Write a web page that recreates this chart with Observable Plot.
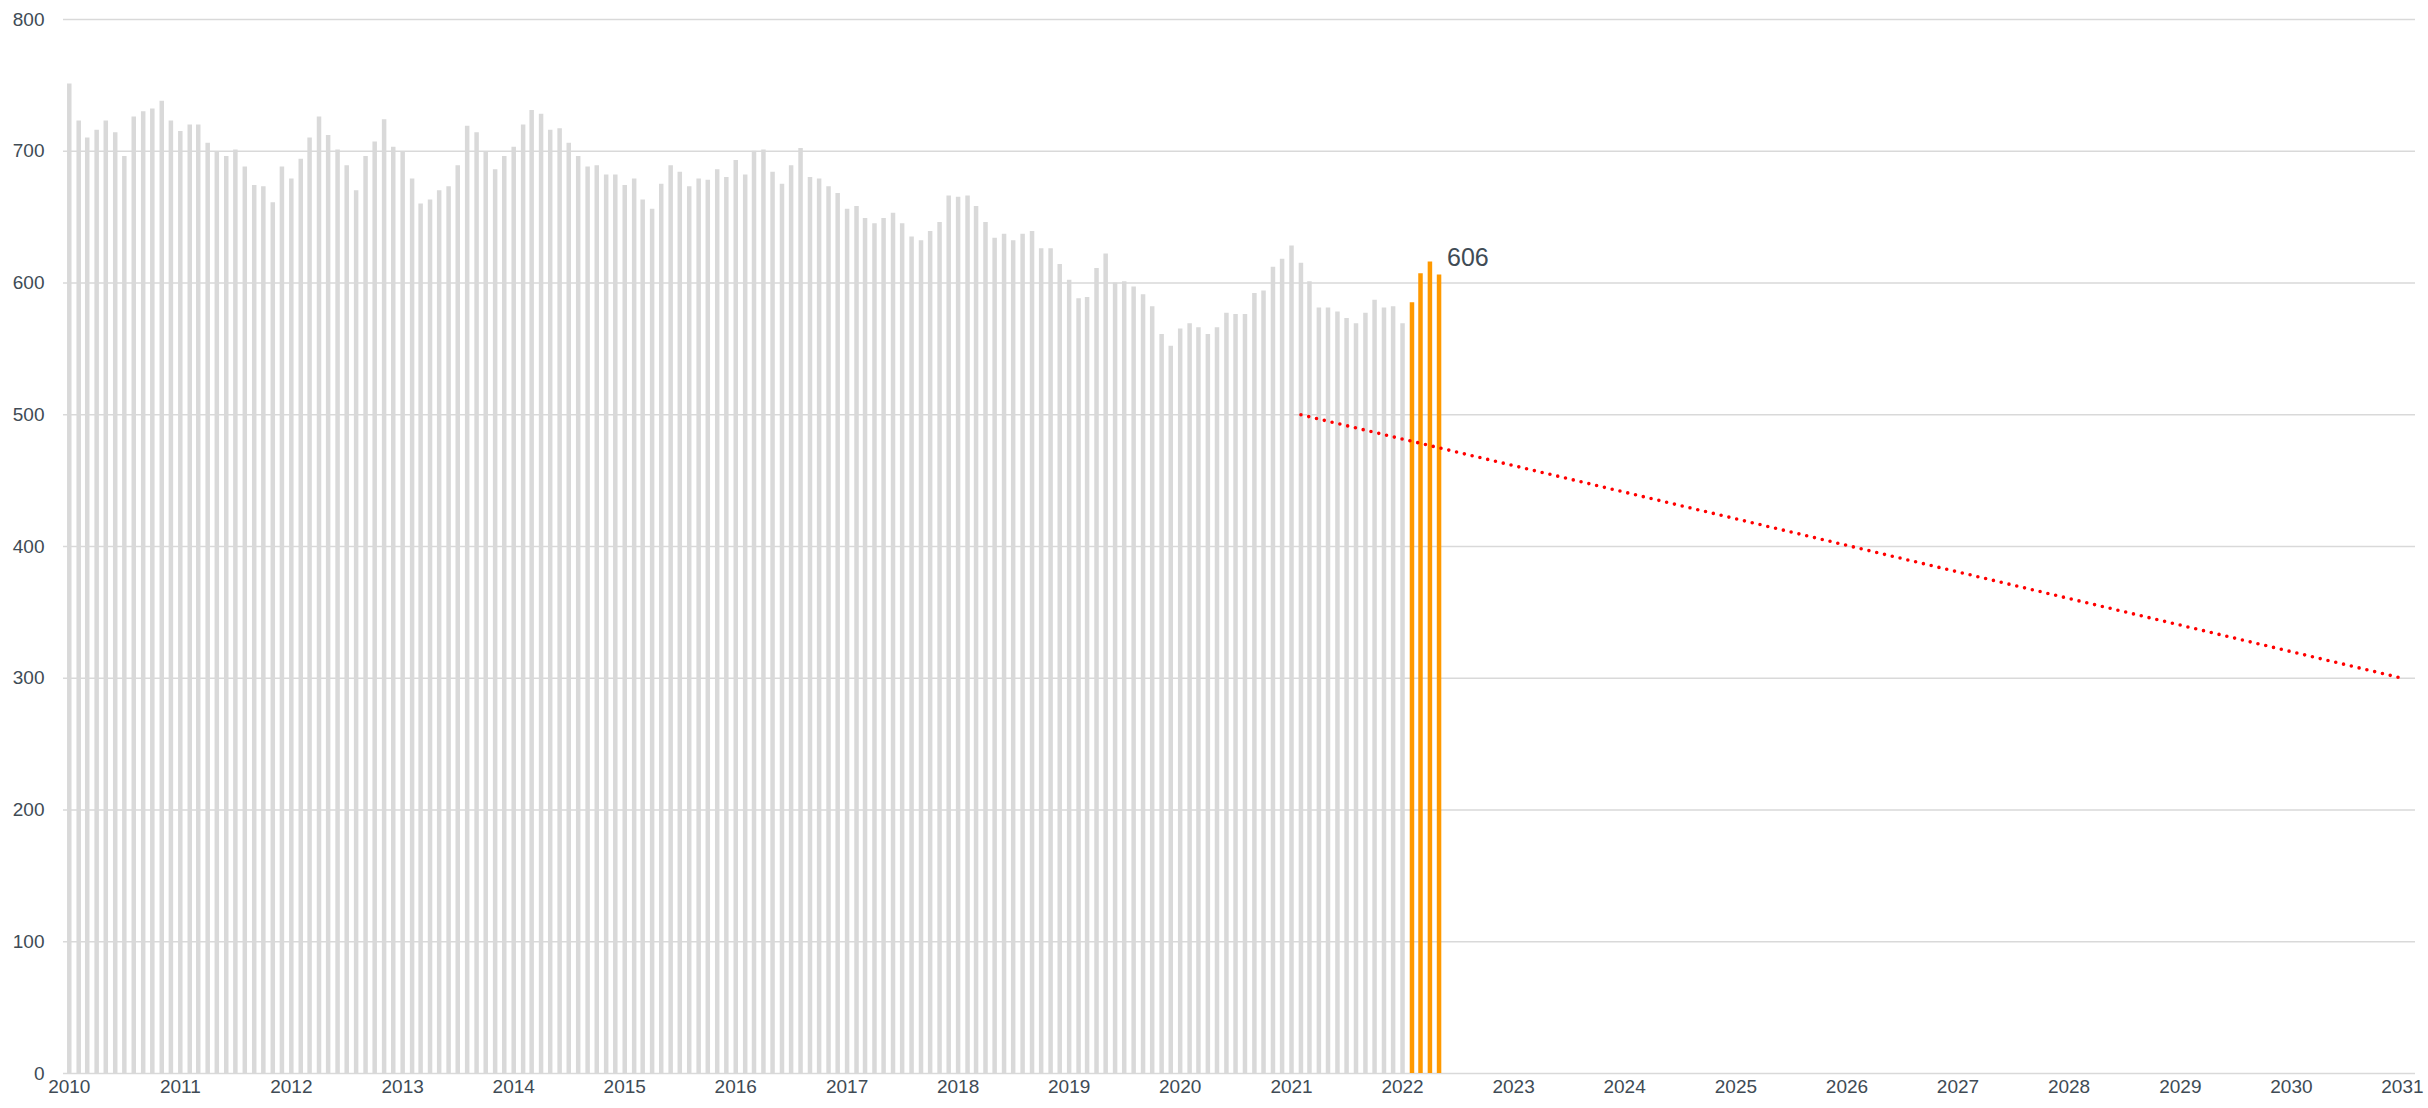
<!DOCTYPE html>
<html>
<head>
<meta charset="utf-8">
<script src="https://cdn.jsdelivr.net/npm/d3@7"></script>
<script src="https://cdn.jsdelivr.net/npm/@observablehq/plot@0.6"></script>
<style>
  html, body { margin: 0; padding: 0; background: #fff; }
  #chart svg { display: block; }
</style>
</head>
<body>
<div id="chart"></div>
<script>
// Monthly values, starting January 2010
const startMonth = "2010-01-01";
const values = [
  751, 723, 710, 716, 723, 714, 696, 726, 730, 732, 738, 723,
  715, 720, 720, 706, 699, 696, 701, 688, 674, 673, 661, 688,
  679, 694, 710, 726, 712, 701, 689, 670, 696, 707, 724, 703,
  699, 679, 660, 663, 670, 673, 689, 719, 714, 699, 686, 696,
  703, 720, 731, 728, 716, 717, 706, 696, 688, 689, 682, 682,
  674, 679, 663, 656, 675, 689, 684, 673, 679, 678, 686, 680,
  693, 682, 700, 701, 684, 675, 689, 702, 680, 679, 673, 668,
  656, 658, 649, 645, 649, 653, 645, 635, 632, 639, 646, 666,
  665, 666, 658, 646, 634, 637, 632, 637, 639, 626, 626, 614,
  602, 588, 589, 611, 622, 600, 601, 597, 591, 582, 561, 552,
  565, 569, 566, 561, 566, 577, 576, 576, 592, 594, 612, 618,
  628, 615, 601, 581, 581, 578, 573, 569, 577, 587, 581, 582,
  569, 585, 607, 616, 606
];
const highlightCount = 4; // most recent months, drawn in orange

// Target trend line
const trendDates = ["2021-02-01", "2031-01-01"];
const trendValues = [500, 300];

// Axis ticks
const yearLabels = ["2010","2011","2012","2013","2014","2015","2016","2017","2018","2019","2020",
                    "2021","2022","2023","2024","2025","2026","2027","2028","2029","2030","2031"];
const yTicks = [0, 100, 200, 300, 400, 500, 600, 700, 800];

// Build tables
const start = new Date(startMonth);
const data = values.map((v, i) => ({
  date: d3.utcMonth.offset(start, i),
  value: v,
  highlight: i >= values.length - highlightCount
}));
const grayData = data.filter(d => !d.highlight);
const orangeData = data.filter(d => d.highlight);
const trend = trendDates.map((d, i) => ({ date: new Date(d), value: trendValues[i] }));
const yearDates = yearLabels.map(y => new Date(y + "-01-01"));
const last = data[data.length - 1];

const textColor = "#404b55";
const gridColor = "#d9d9d9";

const chart = Plot.plot({
  width: 2428,
  height: 1108,
  marginLeft: 63,
  marginRight: 13,
  marginTop: 19,
  marginBottom: 35,
  style: {
    fontFamily: "'Liberation Sans', Arial, Helvetica, sans-serif",
    fontSize: "19px",
    color: textColor,
    background: "#ffffff"
  },
  x: { type: "utc", domain: [new Date("2009-12-13"), new Date("2031-02-13")] },
  y: { domain: [0, 800] },
  marks: [
    Plot.ruleY(yTicks, { stroke: gridColor, strokeWidth: 1.3 }),
    Plot.ruleX(grayData, { x: "date", y1: 0, y2: "value", stroke: "#d9d9d9", strokeWidth: 4.5 }),
    Plot.ruleX(orangeData, { x: "date", y1: 0, y2: "value", stroke: "#ff9900", strokeWidth: 4.5 }),
    Plot.line(trend, {
      x: "date", y: "value", stroke: "#ff0000", strokeWidth: 3.6,
      strokeDasharray: "0 8", strokeLinecap: "round"
    }),
    Plot.text([last], {
      x: "date", y: "value", text: d => String(d.value),
      dx: 8, dy: -17, textAnchor: "start", fontSize: 25, fill: textColor
    }),
    Plot.axisY({ ticks: yTicks, tickSize: 0, tickPadding: 19, label: null, tickFormat: d => String(d) }),
    Plot.axisX({ ticks: yearDates, tickSize: 0, tickPadding: 6, label: null, tickFormat: d3.utcFormat("%Y") })
  ]
});
document.getElementById("chart").appendChild(chart);
</script>
</body>
</html>
